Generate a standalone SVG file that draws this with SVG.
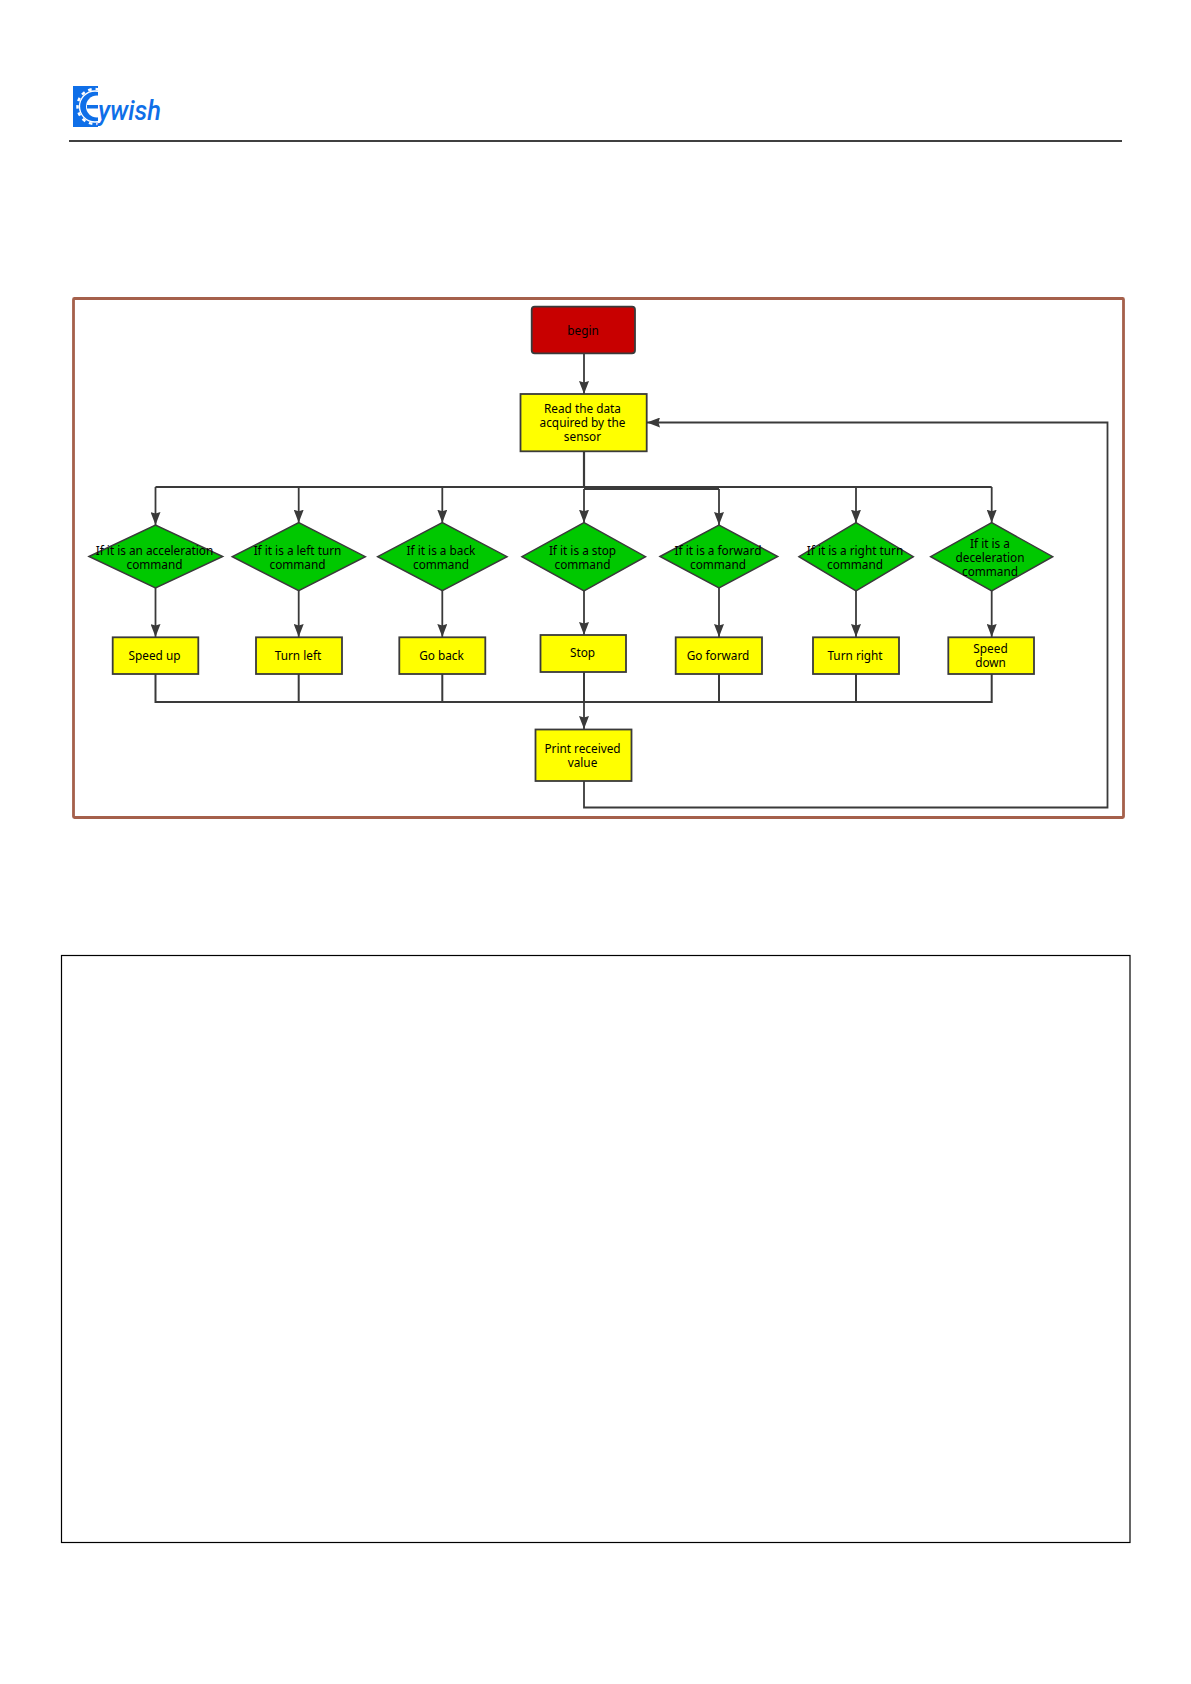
<svg xmlns="http://www.w3.org/2000/svg" width="1191" height="1684" viewBox="0 0 1191 1684">
<style>
text{font-family:"Noto Sans","Open Sans","Liberation Sans",sans-serif;font-size:11.800px;fill:#000;text-anchor:middle}
.d{fill:#00c800;stroke:#3a3a3a;stroke-width:1.500}
.r{fill:#ff0;stroke:#3a3a3a;stroke-width:1.800}
.c{fill:none;stroke:#3a3a3a;stroke-width:1.800}
.a{fill:none;stroke:#3a3a3a;stroke-width:1.800;marker-end:url(#ah)}
</style>
<defs><marker id="ah" markerUnits="userSpaceOnUse" markerWidth="13" markerHeight="10" refX="13" refY="5" orient="auto" viewBox="0 0 13 10"><path d="M0 0L13 5L0 10L1.500 5Z" fill="#3a3a3a"/></marker></defs>
<rect width="1191" height="1684" fill="#fff"/>
<g id="logo">
<rect x="73" y="86" width="25" height="41" fill="#0f6fe8"/>
<circle cx="97" cy="106.500" r="11" fill="#fff"/>
<rect x="98" y="94" width="5" height="25" fill="#fff"/>
<circle cx="95" cy="106.500" r="15.500" fill="none" stroke="#fff" stroke-width="1.300"/>
<circle cx="95" cy="106.500" r="17.500" fill="none" stroke="#fff" stroke-width="2.500" stroke-dasharray="3.500 4"/>
<rect x="98" y="86" width="6" height="41" fill="#fff"/>
<rect x="87" y="105" width="11" height="3.500" fill="#0f6fe8"/>
<text x="98" y="120" style="font-family:Roboto,sans-serif;font-size:27px;font-style:italic;font-weight:500;fill:#0f6fe8;text-anchor:start" textLength="63" lengthAdjust="spacingAndGlyphs">ywish</text>
</g>
<line x1="69" y1="141" x2="1122" y2="141" stroke="#000" stroke-width="1.300"/>
<rect id="frame" x="73.500" y="298.500" width="1050" height="519" fill="none" stroke="#a5604b" stroke-width="2.800" rx="1"/>
<rect id="empty-box" x="61.500" y="955.500" width="1068.500" height="587" fill="none" stroke="#000" stroke-width="1.200"/>
<g id="connectors">
<path class="a" d="M584 353V394"/>
<path class="c" style="stroke-width:2.200" d="M584 451V487"/>
<path class="c" d="M155.500 487H991.700"/>
<path class="c" d="M584 489H719"/>
<path class="a" d="M155.500 487V525"/>
<path class="a" d="M298.700 487V522.700"/>
<path class="a" d="M442.300 487V522.700"/>
<path class="a" d="M584 489V522.700"/>
<path class="a" d="M719 489V525"/>
<path class="a" d="M856 487V522.700"/>
<path class="a" d="M991.700 487V522.700"/>
<path class="a" d="M155.500 588V637"/>
<path class="a" d="M298.700 590.700V637"/>
<path class="a" d="M442.300 590.700V637"/>
<path class="a" d="M584 591V635"/>
<path class="a" d="M719 588V637"/>
<path class="a" d="M856 591V637"/>
<path class="a" d="M991.700 591V637"/>
<path class="c" style="stroke-width:2" d="M155.500 674V702H991.700V674M298.700 674V702M442.300 674V702M584 672V702M719 674V702M856 674V702"/>
<path class="a" d="M584 702V729"/>
<path class="a" d="M584 781V807.500H1107.500V422.500H647"/>
</g>
<g id="begin"><rect x="531.700" y="306.700" width="103.300" height="46.600" rx="3" fill="#c80000" stroke="#3a3a3a" stroke-width="1.800"/><text x="583" y="335">begin</text></g>
<g id="read"><rect class="r" x="520.500" y="394" width="126.200" height="57.300"/><text x="582.500" y="413">Read the data</text><text x="582.500" y="427">acquired by the</text><text x="582.500" y="441">sensor</text></g>
<g id="d1"><path class="d" d="M89 556.500L155.500 525L222.700 556.500L155.500 588Z"/><text x="154.500" y="555">If it is an acceleration</text><text x="154.500" y="569">command</text></g>
<g id="d2"><path class="d" d="M232.300 556.700L298.700 522.700L365.300 556.700L298.700 590.700Z"/><text x="297.500" y="555">If it is a left turn</text><text x="297.500" y="569">command</text></g>
<g id="d3"><path class="d" d="M377.700 556.700L442.300 522.700L507 556.700L442.300 590.700Z"/><text x="441" y="555">If it is a back</text><text x="441" y="569">command</text></g>
<g id="d4"><path class="d" d="M522 556.700L584 522.700L645.500 556.700L584 591Z"/><text x="582.500" y="555">If it is a stop</text><text x="582.500" y="569">command</text></g>
<g id="d5"><path class="d" d="M660 556.500L719 525L777.700 556.500L719 588Z"/><text x="718" y="555">If it is a forward</text><text x="718" y="569">command</text></g>
<g id="d6"><path class="d" d="M799 556.700L856 522.700L913.300 556.700L856 591Z"/><text x="855" y="555">If it is a right turn</text><text x="855" y="569">command</text></g>
<g id="d7"><path class="d" d="M930.700 556.700L991.700 522.700L1052.700 556.700L991.700 591Z"/><text x="990" y="548">If it is a</text><text x="990" y="562">deceleration</text><text x="990" y="576">command</text></g>
<g id="p1"><rect class="r" x="112.700" y="637.300" width="85.600" height="36.700"/><text x="154.500" y="660">Speed up</text></g>
<g id="p2"><rect class="r" x="256" y="637.300" width="86" height="36.700"/><text x="298" y="660">Turn left</text></g>
<g id="p3"><rect class="r" x="399.300" y="637.300" width="86" height="36.700"/><text x="441.500" y="660">Go back</text></g>
<g id="p4"><rect class="r" x="540.500" y="635" width="85.500" height="37"/><text x="582.500" y="657">Stop</text></g>
<g id="p5"><rect class="r" x="675.700" y="637.300" width="86.300" height="36.700"/><text x="718" y="660">Go forward</text></g>
<g id="p6"><rect class="r" x="813" y="637.300" width="86" height="36.700"/><text x="855" y="660">Turn right</text></g>
<g id="p7"><rect class="r" x="948.300" y="637.300" width="85.700" height="36.700"/><text x="990.500" y="653">Speed</text><text x="990.500" y="667">down</text></g>
<g id="print"><rect class="r" x="535.500" y="729.500" width="96" height="51.500"/><text x="582.500" y="753">Print received</text><text x="582.500" y="767">value</text></g>
</svg>
